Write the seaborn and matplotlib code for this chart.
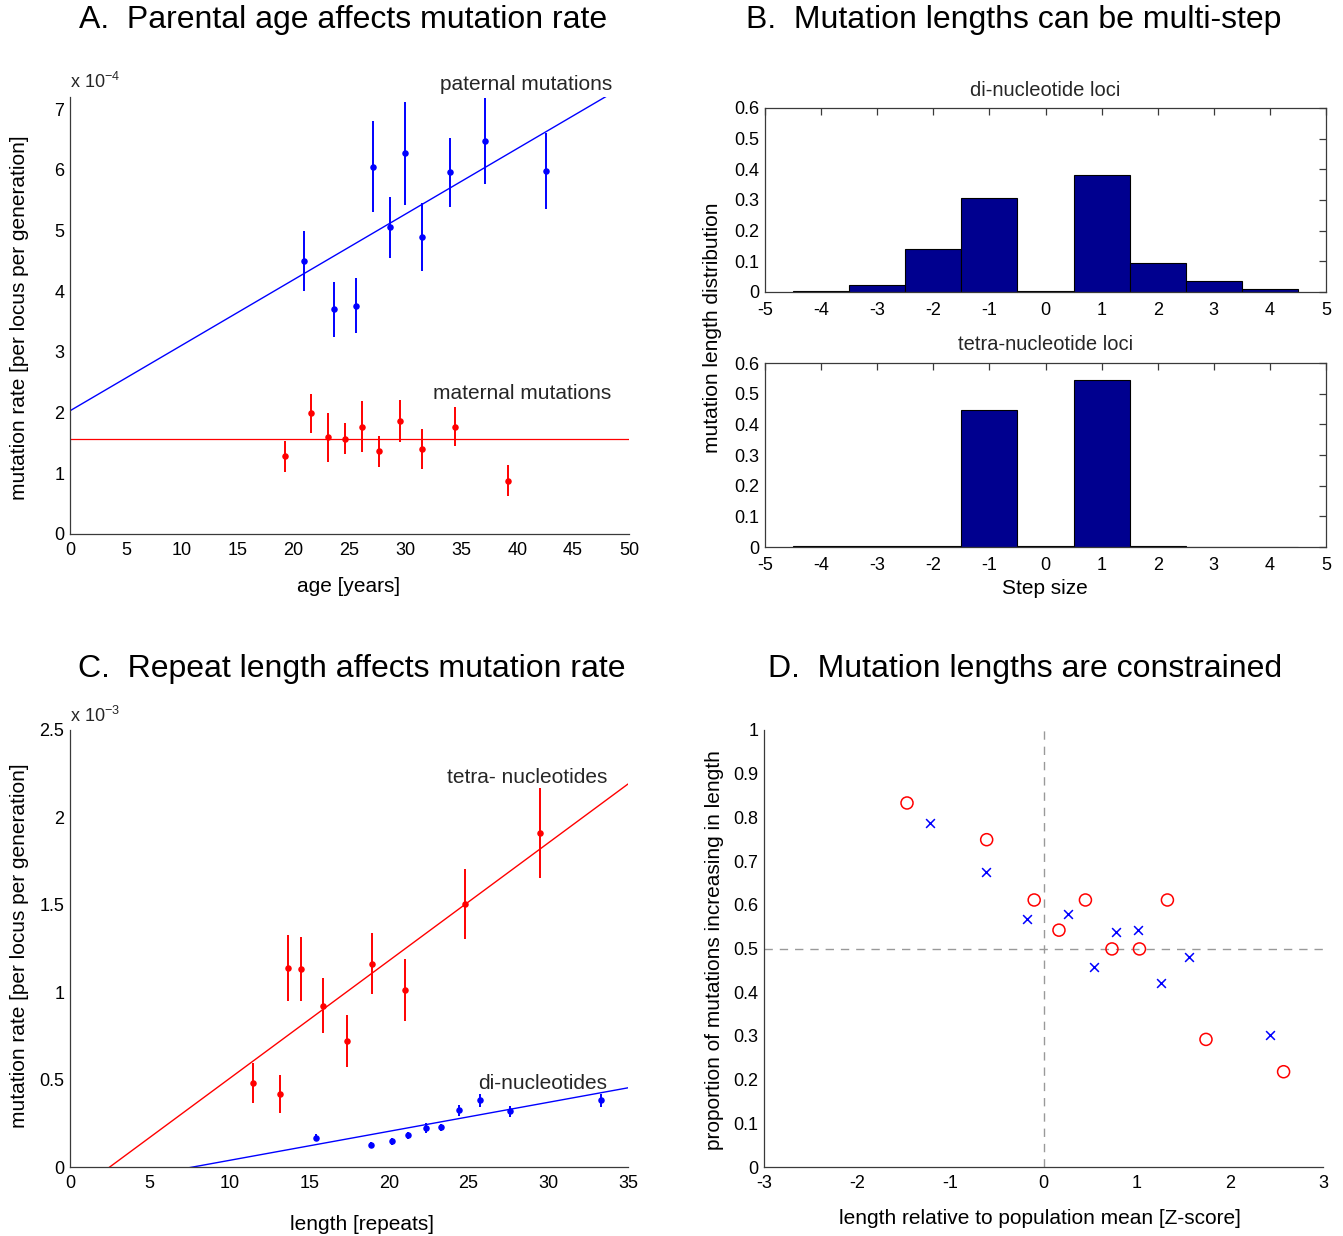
import numpy as np
import pandas as pd
import matplotlib
matplotlib.use("Agg")
import matplotlib.pyplot as plt
import seaborn as sns

# ---------------- data ----------------
# A. parental age vs mutation rate (units of 1e-4 per locus per generation)
pat_age = [20.9, 23.6, 25.6, 27.1, 28.6, 30.0, 31.5, 34.0, 37.1, 42.6]
pat_rate = [4.50, 3.70, 3.76, 6.05, 5.05, 6.27, 4.90, 5.96, 6.47, 5.98]
pat_err = [0.50, 0.45, 0.45, 0.75, 0.50, 0.85, 0.56, 0.57, 0.71, 0.63]
mat_age = [19.2, 21.6, 23.1, 24.6, 26.1, 27.6, 29.5, 31.5, 34.4, 39.2]
mat_rate = [1.28, 1.99, 1.59, 1.57, 1.77, 1.36, 1.86, 1.40, 1.77, 0.88]
mat_err = [0.26, 0.32, 0.40, 0.26, 0.42, 0.26, 0.35, 0.33, 0.32, 0.26]
pat_fit = [2.03, 0.108]   # intercept, slope
mat_fit = [1.56, 0.0]

# B. step-size distributions
steps = [-4, -3, -2, -1, 0, 1, 2, 3, 4]
di_freq = [0.003, 0.022, 0.141, 0.308, 0.003, 0.380, 0.094, 0.037, 0.011]
tetra_freq = [0.003, 0.003, 0.003, 0.448, 0.002, 0.543, 0.003, 0.001, 0.001]

# C. repeat length vs mutation rate (units of 1e-3)
tetra_len = [11.5, 13.15, 13.7, 14.5, 15.9, 17.4, 18.95, 21.0, 24.8, 29.5]
tetra_rate = [0.482, 0.418, 1.14, 1.13, 0.923, 0.72, 1.164, 1.013, 1.505, 1.909]
tetra_err = [0.114, 0.11, 0.19, 0.183, 0.157, 0.15, 0.177, 0.176, 0.20, 0.257]
di_len = [15.4, 18.9, 20.2, 21.2, 22.3, 23.3, 24.4, 25.7, 27.6, 33.3]
di_rate = [0.166, 0.128, 0.147, 0.183, 0.223, 0.227, 0.324, 0.381, 0.318, 0.381]
di_err = [0.02, 0.015, 0.02, 0.02, 0.03, 0.02, 0.03, 0.035, 0.03, 0.035]
tetra_fit = [-0.168, 0.0674]
di_fit = [-0.128, 0.0166]

# D. proportion of expansions vs standardized allele length
tetra_z = [-1.465, -0.61, -0.10, 0.45, 1.33, 0.166, 0.735, 1.03, 1.744, 2.577]
tetra_prop = [0.833, 0.749, 0.611, 0.611, 0.611, 0.542, 0.499, 0.499, 0.292, 0.218]
di_z = [-1.215, -0.62, -0.18, 0.26, 0.78, 1.01, 0.545, 1.557, 1.26, 2.427]
di_prop = [0.788, 0.675, 0.567, 0.580, 0.537, 0.542, 0.458, 0.481, 0.421, 0.302]

# ---------------- style ----------------
sns.set_style("white")
plt.rcParams['font.family'] = ['Liberation Sans', 'DejaVu Sans']
plt.rcParams['mathtext.fontset'] = 'custom'
plt.rcParams['mathtext.rm'] = 'Liberation Sans'
plt.rcParams['mathtext.it'] = 'Liberation Sans'
plt.rcParams['axes.unicode_minus'] = False

W, H = 1343, 1236
fig = plt.figure(figsize=(W / 100, H / 100), dpi=100)

SPINE = '#3a3a3a'
TICK_FS = 13
LAB_FS = 15
TITLE_FS = 23
BLUE = '#0000ff'
RED = '#ff0000'
NAVY = '#00008f'


def px_axes(left, top, right, bottom):
    return fig.add_axes([left / W, 1 - bottom / H, (right - left) / W, (bottom - top) / H])


def style(ax, box=False):
    for s in ['left', 'bottom', 'top', 'right']:
        ax.spines[s].set_color(SPINE)
        ax.spines[s].set_linewidth(0.9)
        ax.spines[s].set_visible(box or s in ('left', 'bottom'))
    ax.tick_params(direction='in', length=5, width=0.9, color=SPINE,
                   labelsize=TICK_FS, labelcolor='black',
                   top=box, right=box)
    ax.tick_params(axis='x', pad=6)
    ax.tick_params(axis='y', pad=4)
    ax.grid(False)


def fig_text(x, y, s, size, rot=0):
    fig.text(x / W, 1 - y / H, s, fontsize=size, rotation=rot,
             ha='center', va='center', color='black')


def fmt(v):
    return ('%g' % v)


# ---------------- A ----------------
axA = px_axes(70, 97, 629, 534)
ages = np.linspace(0, 50, 2)
sns.lineplot(x=ages, y=pat_fit[0] + pat_fit[1] * ages, color=BLUE, lw=1.0, ax=axA)
sns.lineplot(x=ages, y=mat_fit[0] + mat_fit[1] * ages, color=RED, lw=0.9, ax=axA)
axA.vlines(pat_age, np.array(pat_rate) - pat_err, np.array(pat_rate) + pat_err,
           color=BLUE, lw=1.4)
axA.vlines(mat_age, np.array(mat_rate) - mat_err, np.array(mat_rate) + mat_err,
           color=RED, lw=1.4)
sns.scatterplot(x=pat_age, y=pat_rate, color=BLUE, s=22, linewidth=0, ax=axA, zorder=3)
sns.scatterplot(x=mat_age, y=mat_rate, color=RED, s=22, linewidth=0, ax=axA, zorder=3)
axA.set_xlim(0, 50)
axA.set_ylim(0, 7.2)
axA.set_xticks(range(0, 51, 5))
axA.set_yticks(range(0, 8))
style(axA)
axA.text(40.8, 7.41, 'paternal mutations', fontsize=LAB_FS, ha='center', va='center', clip_on=False)
axA.text(40.4, 2.31, 'maternal mutations', fontsize=LAB_FS, ha='center', va='center', clip_on=False)
fig.text(70 / W, 1 - 82 / H, r'x 10$^{-4}$', fontsize=TICK_FS, ha='left', va='center')
fig_text(343, 20, 'A.  Parental age affects mutation rate', TITLE_FS)
fig_text(349, 586, 'age [years]', LAB_FS)
fig_text(20, 318, 'mutation rate [per locus per generation]', LAB_FS, rot=90)

# ---------------- B ----------------
axB1 = px_axes(765, 108, 1326, 292)
axB2 = px_axes(765, 363, 1326, 547)
for ax, freq, sub in [(axB1, di_freq, 'di-nucleotide loci'),
                      (axB2, tetra_freq, 'tetra-nucleotide loci')]:
    sns.barplot(x=steps, y=freq, native_scale=True, width=1, color=NAVY,
                saturation=1, edgecolor='black', linewidth=0.8,
                errorbar=None, ax=ax)
    ax.set_xlim(-5, 5)
    ax.set_ylim(0, 0.6)
    ax.set_xticks(range(-5, 6))
    ax.set_xticklabels([fmt(v) for v in range(-5, 6)])
    yt = [0, 0.1, 0.2, 0.3, 0.4, 0.5, 0.6]
    ax.set_yticks(yt)
    ax.set_yticklabels([fmt(v) for v in yt])
    style(ax, box=True)
    ax.tick_params(axis='x', pad=7)
    ax.set_title(sub, fontsize=LAB_FS - 0.5, pad=9)
fig_text(1014, 20, 'B.  Mutation lengths can be multi-step', TITLE_FS)
fig_text(1045, 588, 'Step size', LAB_FS)
fig_text(712, 328, 'mutation length distribution', LAB_FS, rot=90)

# ---------------- C ----------------
axC = px_axes(70, 730, 628, 1167)
lens = np.linspace(0, 35, 2)
sns.lineplot(x=lens, y=tetra_fit[0] + tetra_fit[1] * lens, color=RED, lw=1.0, ax=axC)
sns.lineplot(x=lens, y=di_fit[0] + di_fit[1] * lens, color=BLUE, lw=1.0, ax=axC)
axC.vlines(tetra_len, np.array(tetra_rate) - tetra_err, np.array(tetra_rate) + tetra_err,
           color=RED, lw=1.4)
axC.vlines(di_len, np.array(di_rate) - di_err, np.array(di_rate) + di_err,
           color=BLUE, lw=1.4)
sns.scatterplot(x=tetra_len, y=tetra_rate, color=RED, s=22, linewidth=0, ax=axC, zorder=3)
sns.scatterplot(x=di_len, y=di_rate, color=BLUE, s=22, linewidth=0, ax=axC, zorder=3)
axC.set_xlim(0, 35)
axC.set_ylim(0, 2.5)
axC.set_xticks(range(0, 36, 5))
ytc = [0, 0.5, 1, 1.5, 2, 2.5]
axC.set_yticks(ytc)
axC.set_yticklabels([fmt(v) for v in ytc])
style(axC)
axC.text(28.67, 2.23, 'tetra- nucleotides', fontsize=LAB_FS, ha='center', va='center', clip_on=False)
axC.text(29.67, 0.475, 'di-nucleotides', fontsize=LAB_FS, ha='center', va='center', clip_on=False)
fig.text(70 / W, 1 - 716 / H, r'x 10$^{-3}$', fontsize=TICK_FS, ha='left', va='center')
fig_text(352, 669, 'C.  Repeat length affects mutation rate', TITLE_FS)
fig_text(362, 1224, 'length [repeats]', LAB_FS)
fig_text(20, 946, 'mutation rate [per locus per generation]', LAB_FS, rot=90)

# ---------------- D ----------------
axD = px_axes(764, 730, 1323, 1167)
axD.axvline(0, color='#999999', lw=1.0, ls=(0, (6, 5)), zorder=1)
axD.axhline(0.5, color='#999999', lw=1.0, ls=(0, (6, 5)), zorder=1)
sns.scatterplot(x=tetra_z, y=tetra_prop, marker='o', s=75, color=RED,
                facecolor='none', edgecolor=RED, linewidth=1.1, ax=axD, zorder=3)
sns.scatterplot(x=di_z, y=di_prop, marker='x', s=40, color=BLUE,
                linewidth=1.1, ax=axD, zorder=3)
axD.set_xlim(-3, 3)
axD.set_ylim(0, 1)
axD.set_xticks(range(-3, 4))
ytd = [round(0.1 * i, 1) for i in range(11)]
axD.set_yticks(ytd)
axD.set_yticklabels([fmt(v) for v in ytd])
style(axD)
fig_text(1025, 669, 'D.  Mutation lengths are constrained', TITLE_FS)
fig_text(1040, 1219, 'length relative to population mean [Z-score]', LAB_FS)
fig_text(715, 950, 'proportion of mutations increasing in length', LAB_FS, rot=90)

fig.savefig('out.png', dpi=100, facecolor='white')
